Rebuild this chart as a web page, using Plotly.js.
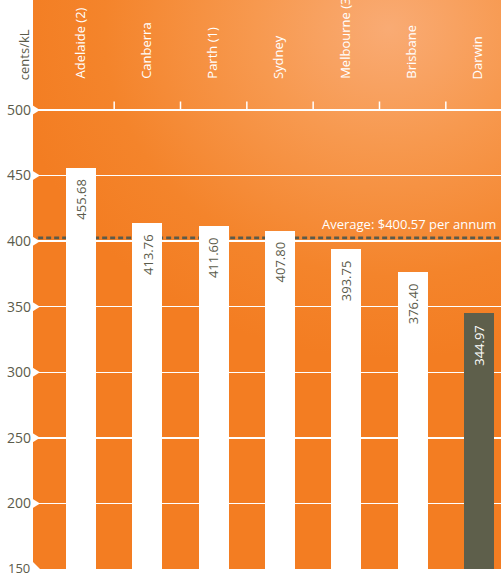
<!DOCTYPE html>
<html>
<head>
<meta charset="utf-8">
<script src="https://cdn.plot.ly/plotly-3.0.1.min.js"></script>
<style>
  html, body { margin:0; padding:0; background:#ffffff; }
  #wrap { position:relative; width:501px; height:576px; }
  #bg { position:absolute; left:33px; top:0; width:468px; height:569px;
        background: radial-gradient(ellipse 380px 330px at 76% 5%, #f9ab74 0%, #f7994f 35%, #f4842b 75%, #f37d22 100%); }
  #chart { position:absolute; left:0; top:0; width:501px; height:576px; }
</style>
</head>
<body>
<div id="wrap">
  <div id="bg"></div>
  <div id="chart"></div>
</div>
<script>
// ---- data ----
const cities = ["Adelaide (2)", "Canberra", "Parth (1)", "Sydney", "Melbourne (3)", "Brisbane", "Darwin"];
const pricesCentsPerKL = [455.68, 413.76, 411.60, 407.80, 393.75, 376.40, 344.97];
const averagePrice = 400.57;
const averageLabel = "Average: $400.57 per annum";
const yTickValues = [150, 200, 250, 300, 350, 400, 450, 500];
const yAxisLabel = "cents/kL";

// ---- styling ----
const ink = "#5b5b4b";
const barColors = cities.map((c, i) => i === cities.length - 1 ? "#5e5f4b" : "#ffffff");
const textColors = cities.map((c, i) => i === cities.length - 1 ? "#ffffff" : ink);
const FONT = "'Open Sans', 'DejaVu Sans', sans-serif";
const yMin = yTickValues[0];

const trace = {
  type: "bar",
  x: cities,
  y: pricesCentsPerKL,
  base: 0,
  width: 0.452,
  marker: { color: barColors, line: { width: 0 } },
  hoverinfo: "skip",
  cliponaxis: true
};

const shapes = [];
// tick marks on the 500 line at category boundaries
for (let k = 0; k < cities.length - 1; k++) {
  shapes.push({ type: "line", xref: "x", yref: "y", x0: k + 0.5, x1: k + 0.5,
    y0: 500, y1: 506.5, line: { color: "#ffffff", width: 1.5 }, layer: "between" });
}
// average dashed line (behind the bars)
shapes.push({ type: "line", xref: "paper", yref: "y", ysizemode: "pixel", yanchor: averagePrice,
  x0: 0.011, x1: 1, y0: 2.5, y1: 2.5, line: { color: ink, width: 2.6, dash: "5px,3px" }, layer: "between" });
// white notches at each tick on the left edge
yTickValues.forEach(v => {
  const path = v === yMin ? "M -1 0 L 7 0 L -1 8 Z" : "M -1 -5 L 7 0 L -1 5 Z";
  shapes.push({ type: "path", xref: "paper", yref: "y", xsizemode: "pixel", ysizemode: "pixel",
    xanchor: 0, yanchor: v, path: path,
    fillcolor: "#ffffff", line: { width: 0 }, layer: "above" });
});

const annotations = [];
cities.forEach((c, i) => {
  annotations.push({ xref: "x", yref: "y", x: c, y: 500, yanchor: "bottom", xanchor: "center",
    yshift: 29, xshift: -2, text: c, showarrow: false, textangle: -90,
    font: { family: FONT, size: 13, color: "#ffffff" } });
  annotations.push({ xref: "x", yref: "y", x: c, y: pricesCentsPerKL[i], yanchor: "top", xanchor: "center",
    yshift: -9, text: pricesCentsPerKL[i].toFixed(2), showarrow: false, textangle: -90,
    font: { family: FONT, size: 13, color: textColors[i] } });
});
annotations.push({ xref: "paper", yref: "y", x: 1, y: averagePrice, xanchor: "right", yanchor: "bottom",
  xshift: -3, yshift: 5, text: averageLabel, showarrow: false,
  font: { family: FONT, size: 13, color: "#ffffff" } });
annotations.push({ xref: "paper", yref: "paper", x: 0, y: 0.903, xanchor: "center", yanchor: "middle",
  xshift: -9, text: yAxisLabel, showarrow: false, textangle: -90,
  font: { family: FONT, size: 13, color: ink } });
// lowest tick label, lifted so it stays inside the picture
annotations.push({ xref: "paper", yref: "y", x: 0, y: yMin, xanchor: "right", yanchor: "middle",
  xshift: -1, yshift: 1, text: String(yMin), showarrow: false,
  font: { family: FONT, size: 13, color: ink } });

const layout = {
  width: 501, height: 576,
  margin: { l: 33, r: 0, t: 0, b: 7, pad: 0 },
  paper_bgcolor: "rgba(0,0,0,0)",
  plot_bgcolor: "rgba(0,0,0,0)",
  showlegend: false,
  bargap: 0,
  xaxis: { type: "category", range: [-0.724, 6.332], showticklabels: false, showgrid: false,
    zeroline: false, showline: false, ticks: "", fixedrange: true },
  yaxis: { range: [yMin, 583.9], tickvals: yTickValues,
    ticktext: yTickValues.map(v => v === yMin ? "" : String(v)),
    showgrid: true, gridcolor: "#ffffff", gridwidth: 1.5, zeroline: false, showline: false,
    ticks: "", ticklabelstandoff: 1,
    tickfont: { family: FONT, size: 14, color: ink }, fixedrange: true },
  shapes: shapes,
  annotations: annotations,
  font: { family: FONT }
};

Plotly.newPlot("chart", [trace], layout, { displayModeBar: false, staticPlot: true });
</script>
</body>
</html>
